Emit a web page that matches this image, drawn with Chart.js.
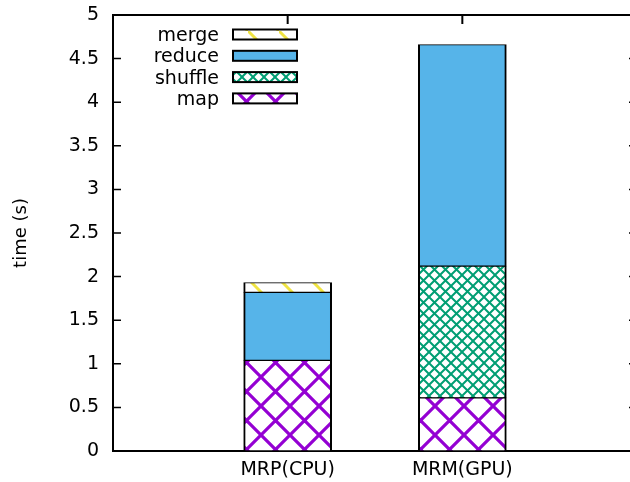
<!DOCTYPE html>
<html>
<head>
<meta charset="utf-8">
<script src="https://cdn.jsdelivr.net/npm/chart.js@4/dist/chart.umd.min.js"></script>
<style>
  html, body { margin: 0; padding: 0; overflow: hidden; background: #fff; }
  canvas { display: block; }
</style>
</head>
<body>
<canvas id="chart" width="645" height="482"></canvas>
<script>
// Categories (blank slots pad the x range on both sides)
const categories = ['', 'MRP(CPU)', 'MRM(GPU)', ''];

// Phase times in seconds, stacked bottom to top
const mapTime     = [null, 1.04, 0.61, null];
const shuffleTime = [null, 0.00, 1.51, null];
const reduceTime  = [null, 0.78, 2.54, null];
const mergeTime   = [null, 0.11, 0.00, null];

// Y axis tick values
const yTickValues = [0, 0.5, 1, 1.5, 2, 2.5, 3, 3.5, 4, 4.5, 5];

const FONT = '"DejaVu Sans", sans-serif';

function crossPattern(color, size, lw) {
  const c = document.createElement('canvas');
  c.width = c.height = size;
  const g = c.getContext('2d');
  g.fillStyle = '#fff';
  g.fillRect(0, 0, size, size);
  g.strokeStyle = color;
  g.lineWidth = lw;
  g.beginPath();
  g.moveTo(-size, -size); g.lineTo(2 * size, 2 * size);
  g.moveTo(2 * size, -size); g.lineTo(-size, 2 * size);
  g.stroke();
  return g.createPattern(c, 'repeat');
}

function slashPattern(color, size, lw) {
  const c = document.createElement('canvas');
  c.width = c.height = size;
  const g = c.getContext('2d');
  g.fillStyle = '#fff';
  g.fillRect(0, 0, size, size);
  g.strokeStyle = color;
  g.lineWidth = lw;
  g.beginPath();
  g.moveTo(-size, -size); g.lineTo(2 * size, 2 * size);
  g.stroke();
  return g.createPattern(c, 'repeat');
}

const mapFill = crossPattern('#9400d3', 29, 3.2);
const shuffleFill = crossPattern('#009e73', 11, 2);
const reduceFill = '#56b4e9';
const mergeFill = slashPattern('#f0e442', 31, 3);

const segBorder = { top: 1, bottom: 1, left: 2, right: 2 };

function ds(label, data, fill) {
  return {
    label, data,
    backgroundColor: fill,
    borderColor: '#000',
    borderWidth: segBorder,
    borderSkipped: false,
    barThickness: 88,
    stack: 's'
  };
}

// Frame and inward ticks drawn under the bars
const framePlugin = {
  id: 'frame',
  beforeDatasetsDraw(chart) {
    const { ctx, chartArea: a, scales } = chart;
    ctx.save();
    ctx.strokeStyle = '#000';
    ctx.lineWidth = 1.5;
    ctx.beginPath();
    yTickValues.forEach(v => {
      const y = scales.y.getPixelForValue(v);
      ctx.moveTo(a.left, y); ctx.lineTo(a.left + 8, y);
      ctx.moveTo(a.right, y); ctx.lineTo(a.right - 8, y);
    });
    ctx.stroke();
    ctx.lineWidth = 2;
    ctx.beginPath();
    categories.forEach((c, i) => {
      if (!c) return;
      const x = scales.x.getPixelForValue(i);
      ctx.moveTo(x, a.top); ctx.lineTo(x, a.top + 9);
    });
    ctx.stroke();
    ctx.lineWidth = 2;
    ctx.strokeRect(a.left, a.top, a.right - a.left, a.bottom - a.top);
    ctx.restore();
  }
};

// Key in the upper-left corner, text to the left of each sample
const keyPlugin = {
  id: 'key',
  afterDatasetsDraw(chart) {
    const { ctx } = chart;
    const sets = chart.data.datasets.slice().reverse();
    ctx.save();
    ctx.font = '19px ' + FONT;
    ctx.textAlign = 'right';
    ctx.textBaseline = 'middle';
    sets.forEach((d, i) => {
      const yc = 34.5 + i * 21.3;
      ctx.fillStyle = '#000';
      ctx.fillText(d.label, 219, yc + 1.5);
      ctx.fillStyle = d.backgroundColor;
      ctx.fillRect(233, yc - 5, 64, 10);
      ctx.strokeStyle = '#000';
      ctx.lineWidth = 2;
      ctx.strokeRect(233, yc - 5, 64, 10);
    });
    ctx.restore();
  }
};

Chart.defaults.font.family = FONT;
Chart.defaults.font.size = 19;
Chart.defaults.color = '#000';

new Chart(document.getElementById('chart'), {
  type: 'bar',
  data: {
    labels: categories,
    datasets: [
      ds('map', mapTime, mapFill),
      ds('shuffle', shuffleTime, shuffleFill),
      ds('reduce', reduceTime, reduceFill),
      ds('merge', mergeTime, mergeFill)
    ]
  },
  options: {
    responsive: false,
    animation: false,
    layout: { padding: { top: 15, right: 8, bottom: 0, left: 0 } },
    plugins: { legend: { display: false }, tooltip: { enabled: false } },
    scales: {
      x: {
        type: 'category',
        stacked: true,
        offset: false,
        grid: { display: false, drawTicks: false },
        border: { display: false },
        ticks: { autoSkip: false, maxRotation: 0, padding: 8, font: { size: 19 } },
        afterFit(s) { s.height = 31; }
      },
      y: {
        stacked: true,
        min: 0,
        max: 5,
        grid: { display: false, drawTicks: false },
        border: { display: false },
        afterBuildTicks(s) { s.ticks = yTickValues.map(v => ({ value: v })); },
        ticks: { padding: 14, font: { size: 19 }, callback: v => String(v) },
        title: { display: true, text: 'time (s)', font: { size: 18 }, padding: { top: 11, bottom: 0 } },
        afterFit(s) { s.width = 113; s.paddingTop = 0; s.paddingBottom = 0; }
      }
    }
  },
  plugins: [framePlugin, keyPlugin]
});
</script>
</body>
</html>
